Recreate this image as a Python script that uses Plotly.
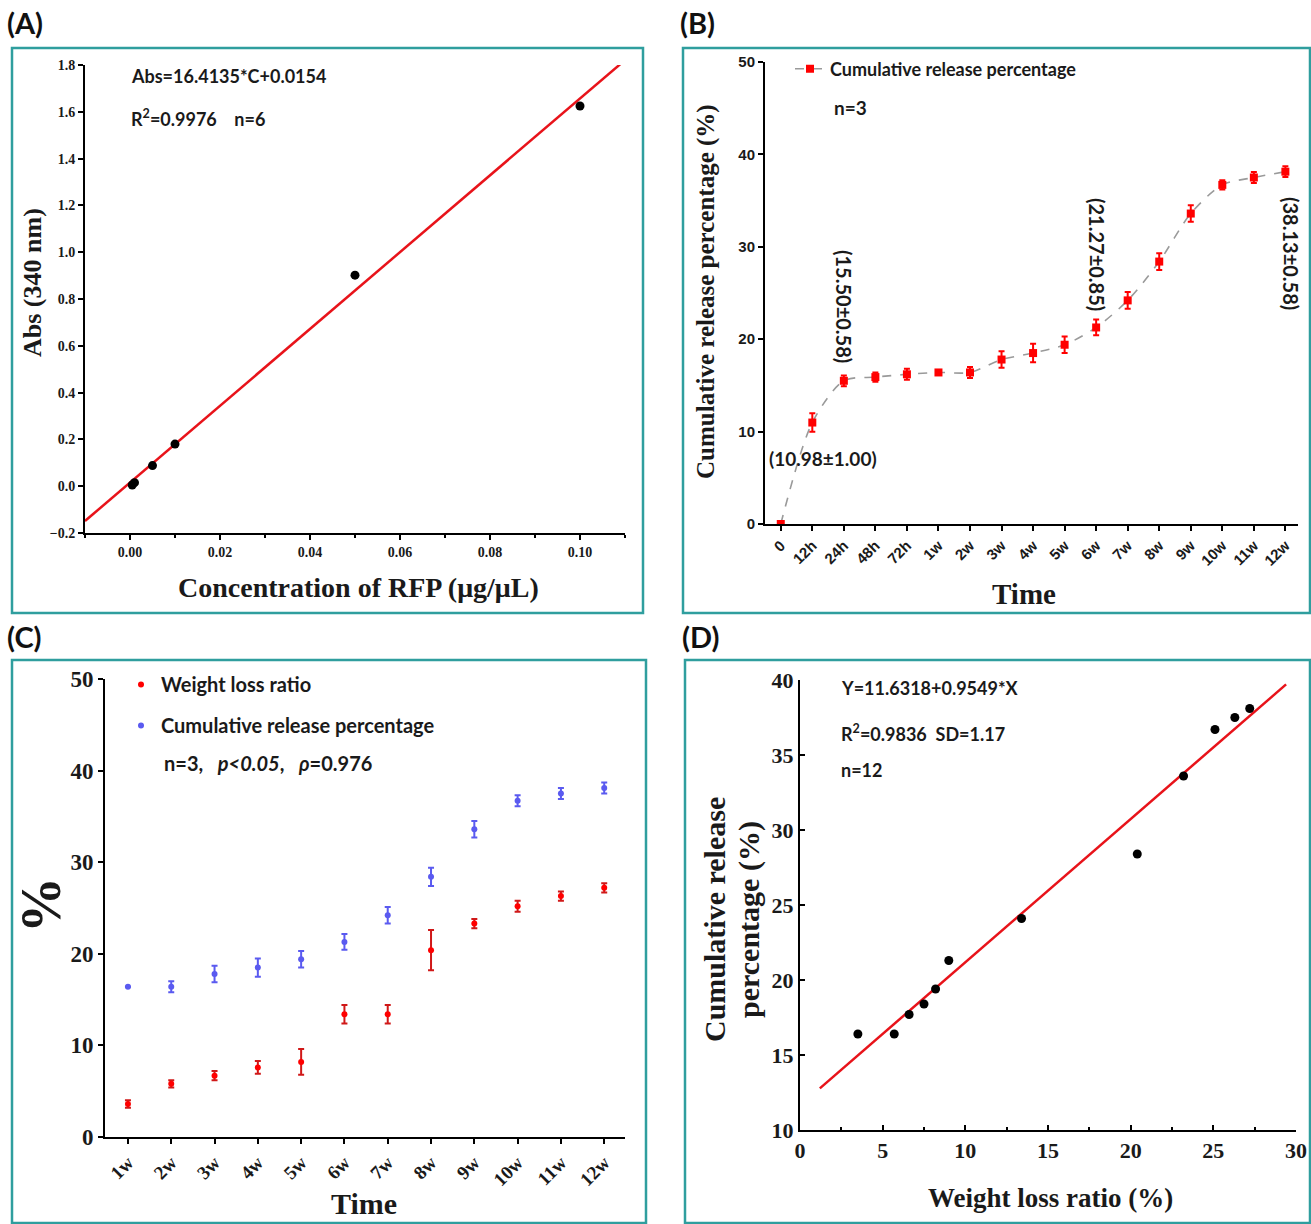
import plotly.graph_objects as go

W, H = 1311, 1224

# ---------------- data ----------------
# Panel A: standard curve
conc_a = [0.0005, 0.001, 0.005, 0.01, 0.05, 0.10]
abs_a = [0.005, 0.015, 0.088, 0.180, 0.902, 1.625]
fit_a_slope, fit_a_icpt = 16.4135, 0.0154
fit_a_x = [-0.01, 0.11]

# Panel B: cumulative release over time
time_b = ["0", "12h", "24h", "48h", "72h", "1w", "2w", "3w", "4w", "5w",
          "6w", "7w", "8w", "9w", "10w", "11w", "12w"]
release_b = [0.0, 10.98, 15.50, 15.9, 16.2, 16.4, 16.4, 17.8, 18.5, 19.4,
             21.27, 24.2, 28.4, 33.6, 36.7, 37.5, 38.13]
release_b_err = [0.0, 1.00, 0.58, 0.5, 0.6, 0.2, 0.6, 0.9, 1.0, 0.9,
                 0.85, 0.9, 0.9, 0.9, 0.5, 0.6, 0.58]

# Panel C: weight loss vs cumulative release (weekly)
weeks_c = ["1w", "2w", "3w", "4w", "5w", "6w", "7w", "8w", "9w", "10w", "11w", "12w"]
weight_loss = [3.6, 5.8, 6.7, 7.6, 8.2, 13.4, 13.4, 20.4, 23.3, 25.2, 26.3, 27.2]
weight_loss_err = [0.4, 0.4, 0.5, 0.7, 1.4, 1.0, 1.0, 2.2, 0.5, 0.6, 0.5, 0.5]
cum_release = [16.4, 16.4, 17.8, 18.5, 19.4, 21.3, 24.2, 28.4, 33.6, 36.7, 37.5, 38.1]
cum_release_err = [0.0, 0.6, 0.9, 1.0, 0.9, 0.85, 0.9, 1.0, 0.9, 0.6, 0.6, 0.6]

# Panel D: correlation (points as plotted)
loss_d = [3.5, 5.7, 6.6, 7.5, 8.2, 9.0, 13.4, 20.4, 23.2, 25.1, 26.3, 27.2]
release_d = [16.4, 16.4, 17.7, 18.4, 19.4, 21.3, 24.1, 28.4, 33.6, 36.7, 37.5, 38.1]
fit_d_icpt, fit_d_slope = 11.6318, 0.9549
fit_d_x = [1.2, 29.4]

# ---------------- helpers ----------------
def px(x):
    return x / W

def py(y):
    return 1 - y / H

SERIF = "Liberation Serif"
SANS = "Lato"
ARIAL = "Liberation Sans"
TEAL = "#2f9e9e"
RED = "#ff0000"
BLUE = "#5a5af0"
TXT = "#1a1a1a"

fig = go.Figure()

# ---------- Panel A ----------
fig.add_trace(go.Scatter(
    x=fit_a_x, y=[fit_a_slope * v + fit_a_icpt for v in fit_a_x],
    mode="lines", line=dict(color="#e8131a", width=2.5),
    xaxis="x", yaxis="y", showlegend=False))
fig.add_trace(go.Scatter(
    x=conc_a, y=abs_a, mode="markers",
    marker=dict(color="black", size=9), xaxis="x", yaxis="y", showlegend=False))

# ---------- Panel B ----------
idx_b = list(range(len(time_b)))
fig.add_trace(go.Scatter(
    x=idx_b, y=release_b, mode="lines+markers",
    line=dict(color="#9a9a9a", width=1.6, dash="dash", shape="spline", smoothing=0.8),
    marker=dict(color=RED, size=8, symbol="square"),
    error_y=dict(type="data", array=release_b_err, color=RED, thickness=2, width=3),
    name="Cumulative release percentage",
    xaxis="x2", yaxis="y2", legend="legend"))

# ---------- Panel C ----------
idx_c = list(range(len(weeks_c)))
fig.add_trace(go.Scatter(
    x=idx_c, y=weight_loss, mode="markers",
    marker=dict(color=RED, size=6),
    error_y=dict(type="data", array=weight_loss_err, color="#d01818", thickness=2, width=3),
    name="Weight loss ratio", legendgroup="wl",
    xaxis="x3", yaxis="y3", legend="legend2"))
fig.add_trace(go.Scatter(
    x=idx_c, y=cum_release, mode="markers",
    marker=dict(color=BLUE, size=6),
    error_y=dict(type="data", array=cum_release_err, color=BLUE, thickness=2, width=3),
    name="Cumulative release percentage", legendgroup="cr",
    xaxis="x3", yaxis="y3", legend="legend2"))

# ---------- Panel D ----------
fig.add_trace(go.Scatter(
    x=fit_d_x, y=[fit_d_icpt + fit_d_slope * v for v in fit_d_x],
    mode="lines", line=dict(color="#e8131a", width=2.5),
    xaxis="x4", yaxis="y4", showlegend=False))
fig.add_trace(go.Scatter(
    x=loss_d, y=release_d, mode="markers",
    marker=dict(color="black", size=9), xaxis="x4", yaxis="y4", showlegend=False))

axis_common = dict(showline=True, linecolor="black", linewidth=2,
                   tickcolor="black", tickwidth=1.5, ticklen=5, showgrid=False,
                   zeroline=False, mirror=False, automargin=False)

def tf(family, size):
    return dict(family=family, size=size, color=TXT, weight="bold")

fig.update_layout(
    width=W, height=H, margin=dict(l=0, r=0, t=0, b=0, autoexpand=False),
    paper_bgcolor="white", plot_bgcolor="white",
    # A
    xaxis=dict(domain=[px(85), px(625)], anchor="y", range=[-0.01, 0.11],
               tickvals=[0, 0.02, 0.04, 0.06, 0.08, 0.10], tickformat=".2f", ticks="outside",
               minor=dict(dtick=0.01, tick0=0, ticks="outside", ticklen=3, tickcolor="black"),
               tickfont=tf(SERIF, 14), **axis_common),
    yaxis=dict(domain=[py(533), py(65)], anchor="x", range=[-0.2, 1.8],
               dtick=0.2, tick0=0, tickformat=".1f", ticks="outside",
               tickfont=tf(SERIF, 14), **axis_common),
    # B
    xaxis2=dict(domain=[px(765), px(1298)], anchor="y2", range=[-0.5, 16.4],
                tickvals=idx_b, ticktext=time_b, tickangle=-45, ticks="outside",
                tickfont=tf(ARIAL, 15), **axis_common),
    yaxis2=dict(domain=[py(524), py(62)], anchor="x2", range=[0, 50], dtick=10,
                ticks="outside", tickfont=tf(ARIAL, 15), **axis_common),
    # C
    xaxis3=dict(domain=[px(105), px(625)], anchor="y3", range=[-0.53, 11.48],
                tickvals=idx_c, ticktext=weeks_c, tickangle=-45, ticks="outside",
                tickfont=tf(SERIF, 19), **axis_common),
    yaxis3=dict(domain=[py(1137), py(679)], anchor="x3", range=[0, 50], dtick=10,
                ticks="outside", tickfont=tf(SERIF, 23), **axis_common),
    # D
    xaxis4=dict(domain=[px(800), px(1296)], anchor="y4", range=[0, 30], dtick=5,
                ticks="inside",
                minor=dict(dtick=2.5, ticks="inside", ticklen=3, tickcolor="black"),
                tickfont=tf(SERIF, 22), **axis_common),
    yaxis4=dict(domain=[py(1130), py(680)], anchor="x4", range=[10, 40], dtick=5,
                ticks="inside", tickfont=tf(SERIF, 22), **axis_common),
    legend=dict(x=px(790), y=py(69), xanchor="left", yanchor="middle",
                bgcolor="rgba(0,0,0,0)", font=tf(SANS, 18),
                itemwidth=30, tracegroupgap=0),
    legend2=dict(x=px(121), y=py(705), xanchor="left", yanchor="middle",
                 bgcolor="rgba(0,0,0,0)", font=tf(SANS, 20),
                 itemwidth=30, tracegroupgap=12),
)

# ---------- borders ----------
boxes = [(12, 48, 643, 613), (683, 48, 1310, 613), (12, 660, 646, 1223), (685, 660, 1310, 1223)]
for x0, y0, x1, y1 in boxes:
    fig.add_shape(type="rect", xref="paper", yref="paper",
                  x0=px(x0), x1=px(x1), y0=py(y1), y1=py(y0),
                  line=dict(color=TEAL, width=2.5), fillcolor="rgba(0,0,0,0)")

def ann(text, x, y, size, family=SANS, angle=0, xanchor="center", color=TXT, weight="bold"):
    fig.add_annotation(text=text, x=px(x), y=py(y), xref="paper", yref="paper",
                       showarrow=False, textangle=angle, xanchor=xanchor, yanchor="middle",
                       font=dict(family=family, size=size, color=color, weight=weight))

# panel labels
ann("(A)", 5, 22, 29, xanchor="left", color="#111")
ann("(B)", 678, 22, 29, xanchor="left", color="#111")
ann("(C)", 5, 636, 29, xanchor="left", color="#111")
ann("(D)", 680, 636, 29, xanchor="left", color="#111")

# Panel A texts
ann("Abs=16.4135*C+0.0154", 129, 76, 18, xanchor="left")
ann("R<sup>2</sup>=0.9976\u00a0\u00a0\u00a0\u00a0n=6", 129, 118, 18, xanchor="left")
ann("Abs (340 nm)", 32, 283, 26, family=SERIF, angle=-90)
ann("Concentration of RFP (\u03bcg/\u03bcL)", 358, 587, 28, family=SERIF)

# Panel B texts
ann("n=3", 832, 107, 19, xanchor="left")
ann("(10.98\u00b11.00)", 823, 458, 19)
ann("(15.50\u00b10.58)", 844, 306, 20, angle=90)
ann("(21.27\u00b10.85)", 1097, 254, 20, angle=90)
ann("(38.13\u00b10.58)", 1291, 253, 20, angle=90)
ann("Cumulative release percentage (%)", 706, 292, 25, family=SERIF, angle=-90)
ann("Time", 1024, 594, 29, family=SERIF)

# Panel C texts
ann("n=3,\u00a0\u00a0\u00a0<i>p&lt;0.05</i>,\u00a0\u00a0\u00a0<i>\u03c1</i>=0.976", 162, 763, 20, xanchor="left")
ann("%", 41, 905, 56, family=SERIF, angle=-90)
ann("Time", 364, 1203, 30, family=SERIF)

# Panel D texts
ann("Y=11.6318+0.9549*X", 839, 688, 18, xanchor="left")
ann("R<sup>2</sup>=0.9836\u00a0\u00a0SD=1.17", 839, 733, 18, xanchor="left")
ann("n=12", 839, 770, 18, xanchor="left")
ann("Cumulative release", 714, 920, 30, family=SERIF, angle=-90)
ann("percentage (%)", 749, 920, 30, family=SERIF, angle=-90)
ann("Weight loss ratio (%)", 1050, 1198, 27, family=SERIF)

fig.write_html("out.html", config={"displayModeBar": False},
               post_script="document.body.style.margin='0px';document.body.style.overflow='hidden';")
